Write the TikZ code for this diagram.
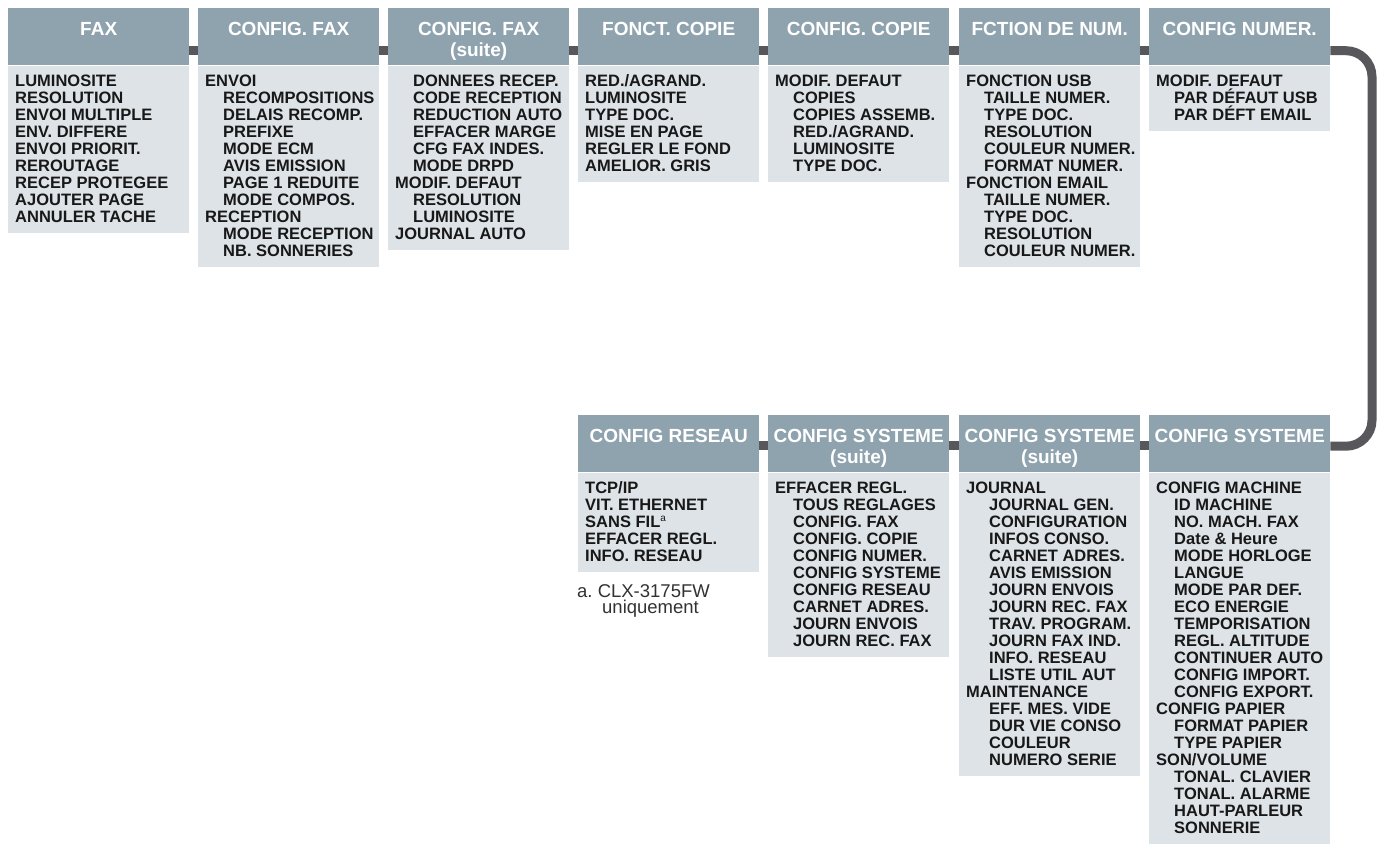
\documentclass[tikz,border=0pt]{standalone}
\usepackage{fontspec}
\setmainfont{Liberation Sans}
\usetikzlibrary{calc}
\frenchspacing
\definecolor{hdrc}{RGB}{143,163,175}
\definecolor{bdyc}{RGB}{221,227,231}
\definecolor{conc}{RGB}{88,88,92}
\definecolor{txtc}{RGB}{24,24,24}
\definecolor{fnc}{RGB}{50,50,50}
\newcommand\ind{\hspace*{18pt}}
\newcommand\indw{\hspace*{23pt}}
\tikzset{
  hdr/.style={fill=hdrc, draw=none, inner sep=0pt, minimum width=181pt, minimum height=57pt, anchor=north west},
  bdy/.style={fill=bdyc, draw=none, inner sep=0pt, minimum width=181pt, anchor=north west},
  htxt/.style={text=white, font=\fontsize{19}{21}\selectfont\bfseries, anchor=base, inner sep=0pt},
  item/.style={text=txtc, font=\fontsize{16.5}{17}\selectfont\bfseries, anchor=base west, inner sep=0pt},
  fn/.style={text=fnc, font=\fontsize{18.5}{20}\selectfont, anchor=base west, inner sep=0pt},
  conn/.style={draw=conc, line width=9pt},
}
% #1 id, #2 x, #3 y, #4 title, #5 number of lines, #6 items
\newcommand\menubox[6]{%
  \node[hdr] (#1h) at (#2,#3) {};
  \node[bdy, minimum height={(14+17*#5)*1pt}] (#1b) at (#1h.south west) {};
  \node[htxt] (#1t) at ($(#1h.north)+(0,27)$) {#4};
  \foreach \t [count=\i] in {#6}
    \node[item] (#1i\i) at ($(#1b.north west)+(7,4+17*\i)$) {\t};
}
\begin{document}
\begin{tikzpicture}[x=1pt,y=-1pt]
\useasboundingbox (0,0) rectangle (1378,846);

% top row
\menubox{A}{8}{8}{FAX}{9}{LUMINOSITE,RESOLUTION,ENVOI MULTIPLE,ENV. DIFFERE,ENVOI PRIORIT.,REROUTAGE,RECEP PROTEGEE,AJOUTER PAGE,ANNULER TACHE}
\menubox{B}{198}{8}{CONFIG. FAX}{11}{ENVOI,\ind RECOMPOSITIONS,\ind DELAIS RECOMP.,\ind PREFIXE,\ind MODE ECM,\ind AVIS EMISSION,\ind PAGE 1 REDUITE,\ind MODE COMPOS.,RECEPTION,\ind MODE RECEPTION,\ind NB. SONNERIES}
\menubox{C}{388}{8}{CONFIG. FAX}{10}{\ind DONNEES RECEP.,\ind CODE RECEPTION,\ind REDUCTION AUTO,\ind EFFACER MARGE,\ind CFG FAX INDES.,\ind MODE DRPD,MODIF. DEFAUT,\ind RESOLUTION,\ind LUMINOSITE,JOURNAL AUTO}
\node[htxt] (Cs) at ($(Ch.north)+(0,48)$) {(suite)};
\menubox{D}{578}{8}{FONCT. COPIE}{6}{RED./AGRAND.,LUMINOSITE,TYPE DOC.,MISE EN PAGE,REGLER LE FOND,AMELIOR. GRIS}
\menubox{E}{768}{8}{CONFIG. COPIE}{6}{MODIF. DEFAUT,\ind COPIES,\ind COPIES ASSEMB.,\ind RED./AGRAND.,\ind LUMINOSITE,\ind TYPE DOC.}
\menubox{F}{959}{8}{FCTION DE NUM.}{11}{FONCTION USB,\ind TAILLE NUMER.,\ind TYPE DOC.,\ind RESOLUTION,\ind COULEUR NUMER.,\ind FORMAT NUMER.,FONCTION EMAIL,\ind TAILLE NUMER.,\ind TYPE DOC.,\ind RESOLUTION,\ind COULEUR NUMER.}
\menubox{G}{1149}{8}{CONFIG NUMER.}{3}{MODIF. DEFAUT,\ind PAR DÉFAUT USB,\ind PAR DÉFT EMAIL}

% bottom row
\menubox{L}{578}{415}{CONFIG RESEAU}{5}{TCP/IP,VIT. ETHERNET,SANS FIL\raisebox{6pt}{\fontsize{10}{10}\selectfont\mdseries a},EFFACER REGL.,INFO. RESEAU}
\menubox{M}{768}{415}{CONFIG SYSTEME}{10}{EFFACER REGL.,\ind TOUS REGLAGES,\ind CONFIG. FAX,\ind CONFIG. COPIE,\ind CONFIG NUMER.,\ind CONFIG SYSTEME,\ind CONFIG RESEAU,\ind CARNET ADRES.,\ind JOURN ENVOIS,\ind JOURN REC. FAX}
\node[htxt] (Ms) at ($(Mh.north)+(0,48)$) {(suite)};
\menubox{N}{959}{415}{CONFIG SYSTEME}{17}{JOURNAL,\indw JOURNAL GEN.,\indw CONFIGURATION,\indw INFOS CONSO.,\indw CARNET ADRES.,\indw AVIS EMISSION,\indw JOURN ENVOIS,\indw JOURN REC. FAX,\indw TRAV. PROGRAM.,\indw JOURN FAX IND.,\indw INFO. RESEAU,\indw LISTE UTIL AUT,MAINTENANCE,\indw EFF. MES. VIDE,\indw DUR VIE CONSO,\indw COULEUR,\indw NUMERO SERIE}
\node[htxt] (Ns) at ($(Nh.north)+(0,48)$) {(suite)};
\menubox{K}{1149}{415}{CONFIG SYSTEME}{21}{CONFIG MACHINE,\ind ID MACHINE,\ind NO. MACH. FAX,\ind Date \& Heure,\ind MODE HORLOGE,\ind LANGUE,\ind MODE PAR DEF.,\ind ECO ENERGIE,\ind TEMPORISATION,\ind REGL. ALTITUDE,\ind CONTINUER AUTO,\ind CONFIG IMPORT.,\ind CONFIG EXPORT.,CONFIG PAPIER,\ind FORMAT PAPIER,\ind TYPE PAPIER,SON/VOLUME,\ind TONAL. CLAVIER,\ind TONAL. ALARME,\ind HAUT-PARLEUR,\ind SONNERIE}

% footnote
\node[fn] (fn1) at ($(Lb.south west)+(-1,26)$) {a. CLX-3175FW};
\node[fn] (fn2) at ($(Lb.south west)+(24,42)$) {uniquement};

% connectors, top row
\foreach \a/\b in {A/B,B/C,C/D,D/E,E/F,F/G}
  \draw[conn] ([yshift=-14pt]\a h.east) -- ([yshift=-14pt]\b h.west);
% connectors, bottom row
\foreach \a/\b in {L/M,M/N,N/K}
  \draw[conn] ([yshift=-1.5pt]\a h.east) -- ([yshift=-1.5pt]\b h.west);
% big connector
\coordinate (bend) at (1372,0);
\coordinate (gA) at ([yshift=-14pt]Gh.east);
\coordinate (kA) at ([yshift=-2.5pt]Kh.east);
\draw[conn, rounded corners=26pt] (gA) -- (gA -| bend) -- (bend |- kA) -- (kA);
\end{tikzpicture}
\end{document}
